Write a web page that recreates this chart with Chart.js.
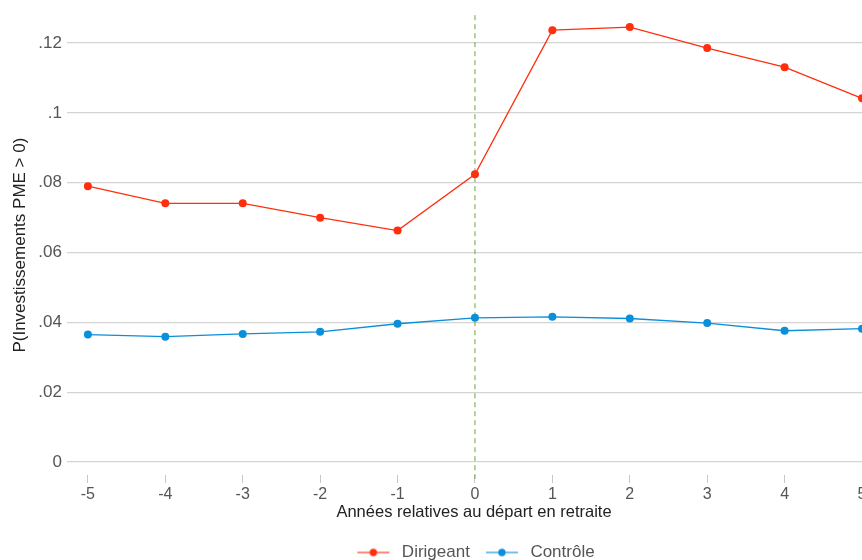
<!DOCTYPE html>
<html>
<head>
<meta charset="utf-8">
<script src="https://cdn.jsdelivr.net/npm/chart.js@4/dist/chart.umd.min.js"></script>
<style>
  html, body { margin: 0; padding: 0; background: #fff; overflow: hidden; }
  /* le graphique d'origine est rogné à droite */
  #wrap { width: 862px; height: 560px; overflow: hidden; }
</style>
</head>
<body>
<div id="wrap"><canvas id="chart" width="881" height="571"></canvas></div>
<script>
// données
const years = [-5, -4, -3, -2, -1, 0, 1, 2, 3, 4, 5];
const dirigeant = [0.0790, 0.0741, 0.0741, 0.0700, 0.0663, 0.0824, 0.1237, 0.1246, 0.1186, 0.1131, 0.1042];
const controle = [0.0365, 0.0359, 0.0367, 0.0373, 0.0396, 0.0413, 0.0416, 0.0411, 0.0398, 0.0376, 0.0382];
const yTicks = [0, 0.02, 0.04, 0.06, 0.08, 0.10, 0.12];
const retirementYear = 0;

const RED = '#ff2f0e';
const BLUE = '#0a8fda';

// petit symbole ligne + point pour la légende
function legendSymbol(color) {
    const c = document.createElement('canvas');
    c.width = 34; c.height = 12;
    const g = c.getContext('2d');
    g.strokeStyle = color; g.lineWidth = 1.5;
    g.globalAlpha = 0.75;
    g.beginPath(); g.moveTo(1, 6); g.lineTo(33, 6); g.stroke();
    g.globalAlpha = 1;
    g.fillStyle = color;
    g.beginPath(); g.arc(17, 6, 3.7, 0, Math.PI * 2); g.fill();
    return c;
}

// ligne verticale pointillée au départ en retraite
const retirementLine = {
    id: 'retirementLine',
    beforeDatasetsDraw(chart) {
        const { ctx, chartArea, scales } = chart;
        const x = scales.x.getPixelForValue(retirementYear);
        ctx.save();
        ctx.strokeStyle = '#6fa33c';
        ctx.lineWidth = 1;
        ctx.setLineDash([5, 4]);
        ctx.beginPath();
        ctx.moveTo(x, chartArea.top);
        ctx.lineTo(x, chartArea.bottom + 4);
        ctx.stroke();
        ctx.restore();
    }
};

const fontFamily = '"Liberation Sans", Arial, sans-serif';

new Chart(document.getElementById('chart'), {
    type: 'line',
    data: {
        datasets: [
            {
                label: 'Dirigeant',
                data: years.map((x, i) => ({ x: x, y: dirigeant[i] })),
                borderColor: RED, backgroundColor: RED,
                borderWidth: 1.3, pointRadius: 4, pointBorderWidth: 0,
                tension: 0, clip: 0
            },
            {
                label: 'Contrôle',
                data: years.map((x, i) => ({ x: x, y: controle[i] })),
                borderColor: BLUE, backgroundColor: BLUE,
                borderWidth: 1.3, pointRadius: 4, pointBorderWidth: 0,
                tension: 0, clip: 0
            }
        ]
    },
    options: {
        responsive: false,
        animation: false,
        layout: { autoPadding: false, padding: { top: 15, right: 0, left: 0, bottom: 0 } },
        plugins: {
            tooltip: { enabled: false },
            legend: {
                position: 'bottom',
                fullSize: false,
                labels: {
                    usePointStyle: true,
                    pointStyleWidth: 40,
                    boxHeight: 12,
                    color: '#555',
                    font: { family: fontFamily, size: 17 },
                    padding: 12,
                    generateLabels(chart) {
                        return chart.data.datasets.map((ds, i) => ({
                            text: ds.label,
                            fillStyle: ds.borderColor,
                            strokeStyle: ds.borderColor,
                            fontColor: '#555',
                            pointStyle: legendSymbol(ds.borderColor),
                            datasetIndex: i,
                            hidden: false
                        }));
                    }
                }
            }
        },
        scales: {
            x: {
                type: 'linear',
                min: -5.27, max: 5.245,
                afterBuildTicks(scale) { scale.ticks = years.map(v => ({ value: v })); },
                afterFit(scale) { scale.paddingRight = 0; scale.height = 57; },
                ticks: {
                    color: '#555',
                    font: { family: fontFamily, size: 16 },
                    padding: 2,
                    maxRotation: 0
                },
                grid: { drawOnChartArea: false, drawTicks: true, tickLength: 8, color: '#c8c8c8' },
                border: { display: false },
                title: {
                    display: true,
                    text: 'Années relatives au départ en retraite',
                    color: '#222',
                    font: { family: fontFamily, size: 16.5 },
                    padding: { top: 0, bottom: 10 }
                }
            },
            y: {
                min: -0.00373, max: 0.128,
                afterBuildTicks(scale) { scale.ticks = yTicks.map(v => ({ value: v })); },
                afterFit(scale) { scale.width = 67; },
                ticks: {
                    color: '#555',
                    font: { family: fontFamily, size: 17 },
                    padding: 5,
                    callback: v => v === 0 ? '0' : String(+v.toFixed(2)).replace(/^0/, '')
                },
                grid: { drawTicks: false, color: '#d4d4d4', lineWidth: 1.3 },
                border: { display: false },
                title: {
                    display: true,
                    text: 'P(Investissements PME > 0)',
                    color: '#222',
                    font: { family: fontFamily, size: 17 },
                    padding: { top: 10, bottom: 4 }
                }
            }
        }
    },
    plugins: [retirementLine]
});
</script>
</body>
</html>
